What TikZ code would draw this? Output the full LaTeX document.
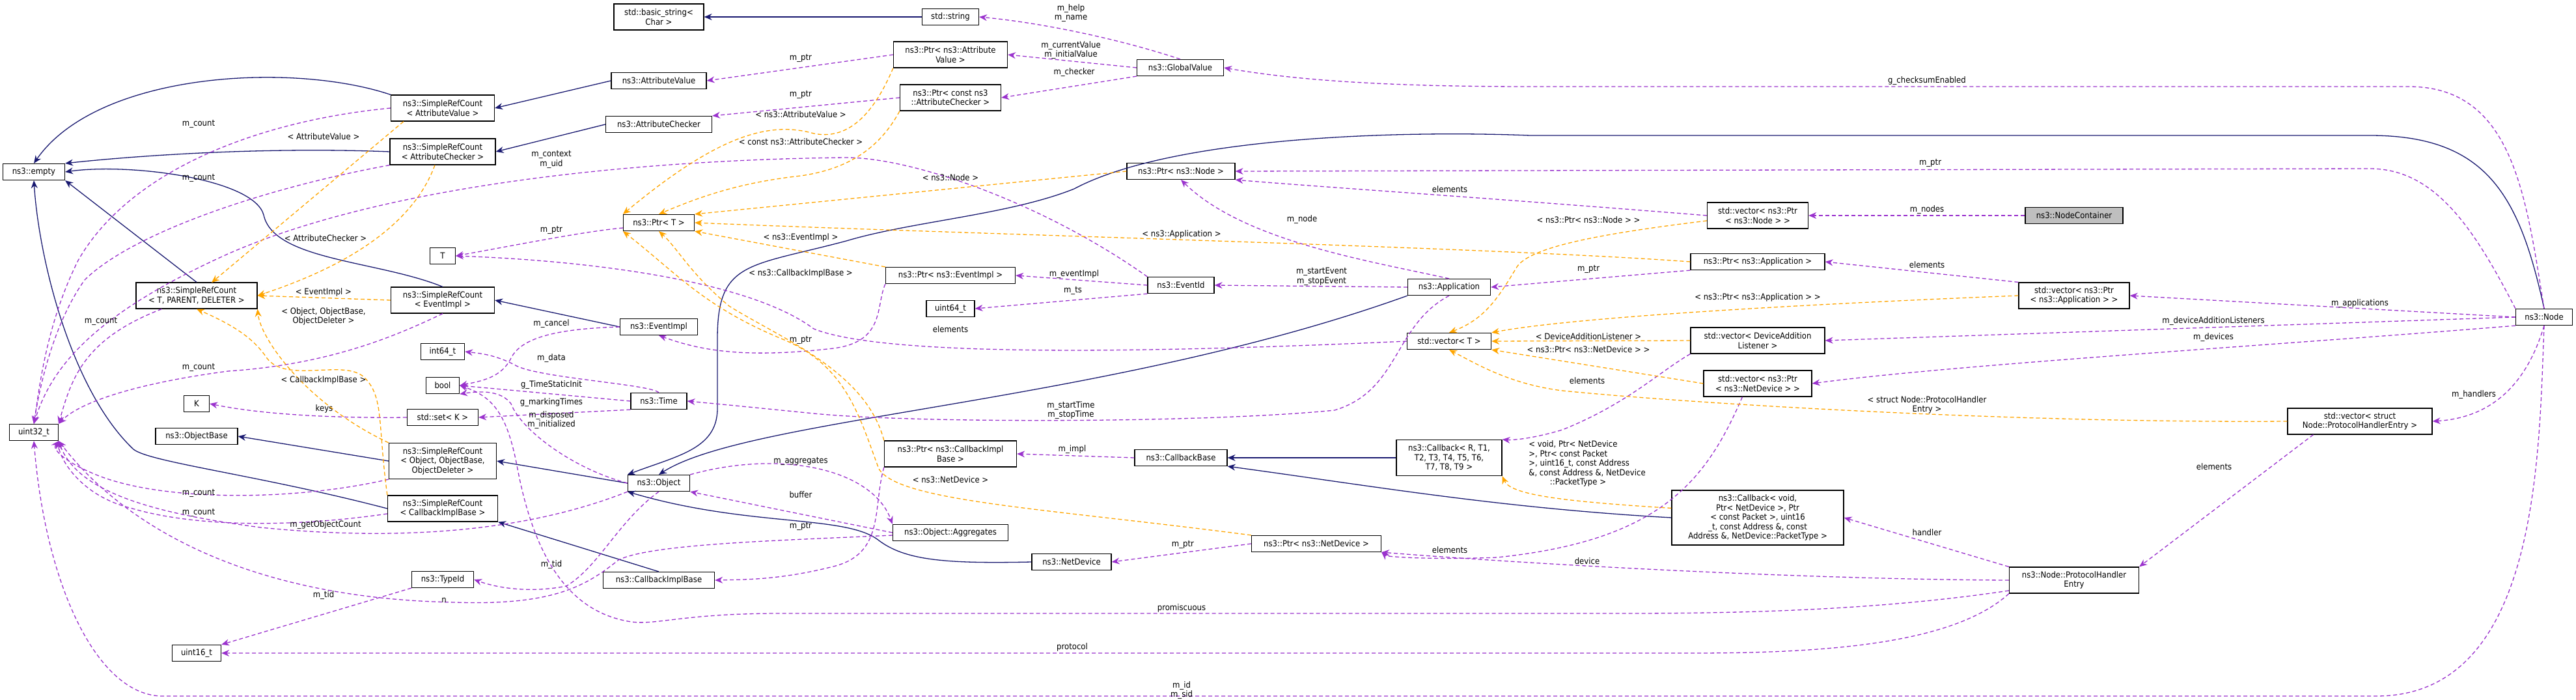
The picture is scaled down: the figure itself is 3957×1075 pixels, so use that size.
\documentclass[tikz,border=0pt]{standalone}
\usepackage{fontspec}
\setmainfont{DejaVu Sans Condensed}
\usetikzlibrary{arrows.meta}
\definecolor{inh}{HTML}{191970}
\definecolor{use}{HTML}{9A32CD}
\definecolor{tpl}{HTML}{FFA500}
\tikzset{
 box/.style={draw=black,line width=1.2pt,fill=white,inner sep=2pt,align=center,font=\fontsize{13}{14.5}\selectfont},
 lb/.style={inner sep=0pt,align=center,font=\fontsize{13}{14.5}\selectfont},
 inher/.style={draw=inh,line width=1.3pt,-{Stealth[length=12pt,width=10pt]}},
 usage/.style={draw=use,line width=1.3pt,dash pattern=on 6pt off 4pt,-{Stealth[length=12pt,width=10pt]}},
 templ/.style={draw=tpl,line width=1.3pt,dash pattern=on 6pt off 4pt,-{Stealth[length=12pt,width=10pt]}},
}
\begin{document}
\begin{tikzpicture}[x=1pt,y=-1pt]
\useasboundingbox (0,0) rectangle (3957,1075);
% nodes
\def\B#1#2#3#4#5{\node[box,minimum width=#4pt,minimum height=#5pt] (#1) at #2 {#3};}
\B{empty}{(52,264)}{ns3::empty}{95}{25}
\B{u32}{(52,664)}{uint32\_t}{75}{25}
\B{K}{(302,620)}{K}{39}{25}
\B{objbase}{(302,670)}{ns3::ObjectBase}{126}{25}
\B{u16}{(302,1003)}{uint16\_t}{75}{25}
\B{srcav}{(680,166)}{ns3::SimpleRefCount\\< AttributeValue >}{159}{40}
\B{srcac}{(680,233)}{ns3::SimpleRefCount\\< AttributeChecker >}{162}{40}
\B{T}{(680,393)}{T}{39}{25}
\B{srctpd}{(302,454)}{ns3::SimpleRefCount\\< T, PARENT, DELETER >}{186}{40}
\B{srcev}{(680,461)}{ns3::SimpleRefCount\\< EventImpl >}{159}{40}
\B{srcobj}{(680,708)}{ns3::SimpleRefCount\\< Object, ObjectBase,\\ObjectDeleter >}{165}{55}
\B{srccb}{(680,781)}{ns3::SimpleRefCount\\< CallbackImplBase >}{169}{40}
\B{i64}{(680,540)}{int64\_t}{67}{25}
\B{bool}{(680,592)}{bool}{51}{25}
\B{setk}{(680,641)}{std::set< K >}{109}{25}
\B{typeid}{(680,890)}{ns3::TypeId}{95}{25}
\B{bstr}{(1012,26)}{std::basic\_string<\\Char >}{138}{40}
\B{av}{(1012,124)}{ns3::AttributeValue}{146}{25}
\B{ac}{(1012,191)}{ns3::AttributeChecker}{163}{25}
\B{ptrt}{(1012,342)}{ns3::Ptr< T >}{109}{25}
\B{evimpl}{(1012,502)}{ns3::EventImpl}{119}{25}
\B{time}{(1012,616)}{ns3::Time}{86}{25}
\B{obj}{(1012,742)}{ns3::Object}{95}{25}
\B{cbib}{(1012,891)}{ns3::CallbackImplBase}{171}{25}
\B{str}{(1460,26)}{std::string}{87}{25}
\B{ptrav}{(1460,84)}{ns3::Ptr< ns3::Attribute\\Value >}{175}{40}
\B{ptrac}{(1460,150)}{ns3::Ptr< const ns3\\::AttributeChecker >}{155}{40}
\B{gv}{(1813,104)}{ns3::GlobalValue}{133}{25}
\B{ptrnode}{(1814,263)}{ns3::Ptr< ns3::Node >}{166}{25}
\B{ptrev}{(1460,423)}{ns3::Ptr< ns3::EventImpl >}{199}{25}
\B{evid}{(1814,438)}{ns3::EventId}{102}{25}
\B{u64}{(1460,474)}{uint64\_t}{74}{25}
\B{ptrcb}{(1460,697)}{ns3::Ptr< ns3::CallbackImpl\\Base >}{203}{40}
\B{cbbase}{(1814,703)}{ns3::CallbackBase}{142}{25}
\B{agg}{(1460,818)}{ns3::Object::Aggregates}{177}{25}
\B{netdev}{(1646,863)}{ns3::NetDevice}{122}{25}
\B{ptrnd}{(2022,835)}{ns3::Ptr< ns3::NetDevice >}{199}{25}
\B{vnode}{(2700,331)}{std::vector< ns3::Ptr\\< ns3::Node > >}{155}{40}
\B{ptrapp}{(2700,402)}{ns3::Ptr< ns3::Application >}{206}{25}
\B{app}{(2226,441)}{ns3::Application}{127}{25}
\B{vt}{(2226,524)}{std::vector< T >}{129}{25}
\B{vdal}{(2700,523)}{std::vector< DeviceAddition\\Listener >}{206}{40}
\B{vnd}{(2700,589)}{std::vector< ns3::Ptr\\< ns3::NetDevice > >}{166}{40}
\B{cbr}{(2226,703)}{ns3::Callback< R, T1,\\T2, T3, T4, T5, T6,\\T7, T8, T9 >}{162}{55}
\B{cbv}{(2700,795)}{ns3::Callback< void,\\Ptr< NetDevice >, Ptr\\< const Packet >, uint16\\\_t, const Address \&, const\\Address \&, NetDevice::PacketType >}{264}{84}
\node[box,fill={rgb,255:red,191;green,191;blue,191},minimum width=150pt,minimum height=25pt] (nc) at (3186,331) {ns3::NodeContainer};
\B{vapp}{(3186,454)}{std::vector< ns3::Ptr\\< ns3::Application > >}{170}{40}
\B{node}{(3908,487)}{ns3::Node}{87}{25}
\B{vphe}{(3625,647)}{std::vector< struct\\Node::ProtocolHandlerEntry >}{222}{40}
\B{phe}{(3186,891)}{ns3::Node::ProtocolHandler\\Entry}{199}{40}
\coordinate (tpdtop) at (325,434);
\coordinate (ptrtl) at (957,350);

% inheritance
\draw[inher] (srcav.north west) .. controls (450,95) and (150,110) .. (empty.north);
\draw[inher] (srcac.west) .. controls (400,225) and (200,240) .. (empty.north east);
\draw[inher] (srcev.north) .. controls (580,400) and (420,400) .. (405,330) .. controls (390,275) and (200,250) .. (empty.east);
\draw[inher] (srctpd.north) -- (empty.south east);
\draw[inher] (srccb.west) .. controls (400,730) and (230,710) .. (205,690) .. controls (110,600) and (60,400) .. (empty.south);
\draw[inher] (av.west) -- (srcav.east);
\draw[inher] (ac.west) -- (srcac.east);
\draw[inher] (evimpl.west) -- (srcev.east);
\draw[inher] (srcobj.west) -- (objbase.east);
\draw[inher] (obj.west) -- (srcobj.east);
\draw[inher] (cbib.north) -- (srccb.south east);
\draw[inher] (str.west) -- (bstr.east);
\draw[inher] (app.south west) .. controls (1700,620) and (1150,640) .. (obj.north);
\draw[inher] (node.north) .. controls (3870,300) and (3820,208) .. (3640,208) -- (2350,208) .. controls (2150,200) and (1800,210) .. (1650,290) .. controls (1550,330) and (1400,340) .. (1300,370) .. controls (1150,410) and (1102,400) .. (1102,520) -- (1102,630) .. controls (1100,690) and (1040,700) .. (obj.north west);
\draw[inher] (netdev.west) .. controls (1450,866) and (1390,860) .. (1350,830) .. controls (1300,790) and (1150,810) .. (obj.south west);
\draw[inher] (cbv.west) .. controls (2300,780) and (2100,745) .. (cbbase.south east);
\draw[inher] (cbr.west) -- (cbbase.east);

% usage
\draw[usage] (gv.north) .. controls (1720,60) and (1600,35) .. (str.east);
\node[lb] (l1) at (1645,20) {m\_help\\m\_name};
\draw[usage] (gv.west) -- (ptrav.east);
\node[lb] (l2) at (1645,77) {m\_currentValue\\m\_initialValue};
\draw[usage] (gv.south west) -- (ptrac.east);
\node[lb] (l3) at (1650,111) {m\_checker};
\draw[usage] (ptrav.west) -- (av.east);
\node[lb] (l4) at (1230,89) {m\_ptr};
\draw[usage] (ptrac.west) -- (ac.north east);
\node[lb] (l5) at (1230,145) {m\_ptr};
\draw[usage] (node.north) .. controls (3880,300) and (3860,133) .. (3700,133) -- (2350,133) .. controls (2150,133) and (2000,125) .. (gv.east);
\node[lb] (l6) at (2960,124) {g\_checksumEnabled};
\draw[usage] (node.north west) .. controls (3800,350) and (3740,259) .. (3640,259) -- (ptrnode.east);
\node[lb] (l7) at (2965,250) {m\_ptr};
\draw[usage] (vnode.west) .. controls (2300,305) and (2000,285) .. (ptrnode.south east);
\node[lb] (l8) at (2227,291) {elements};
\draw[usage] (nc.west) -- (vnode.east);
\node[lb] (l9) at (2960,322) {m\_nodes};
\draw[usage] (app.north) .. controls (2100,400) and (1910,370) .. (ptrnode.south);
\node[lb] (l10) at (2000,337) {m\_node};
\draw[usage] (app.west) -- (evid.east);
\node[lb] (l11) at (2030,425) {m\_startEvent\\m\_stopEvent};
\draw[usage] (evid.west) -- (ptrev.east);
\node[lb] (l12) at (1650,421) {m\_eventImpl};
\draw[usage] (evid.south west) -- (u64.east);
\node[lb] (l13) at (1648,446) {m\_ts};
\draw[usage] (evid.north west) .. controls (1600,310) and (1400,242) .. (1300,242) .. controls (1000,245) and (600,280) .. (350,390) .. controls (150,480) and (80,560) .. (u32.north);
\node[lb] (l14) at (847,245) {m\_context\\m\_uid};
\draw[usage] (ptrtl) .. controls (900,355) and (800,375) .. (T.east);
\node[lb] (l15) at (847,353) {m\_ptr};
\draw[usage] (vt.west) .. controls (1700,545) and (1350,545) .. (1250,505) .. controls (1150,430) and (900,400) .. (T.east);
\node[lb] (l16) at (1460,506) {elements};
\draw[usage] (obj.north east) .. controls (1200,690) and (1340,720) .. (agg.north west);
\node[lb] (l17) at (1230,708) {m\_aggregates};
\draw[usage] (agg.west) -- (obj.south east);
\node[lb] (l18) at (1230,760) {buffer};
\draw[usage] (ptrcb.south west) .. controls (1340,780) and (1360,850) .. (1280,870) .. controls (1200,890) and (1150,890) .. (cbib.east);
\node[lb] (l19) at (1230,808) {m\_ptr};
\draw[usage] (ptrev.south west) .. controls (1345,470) and (1360,525) .. (1280,535) .. controls (1150,550) and (1080,540) .. (evimpl.south);
\node[lb] (l20) at (1230,522) {m\_ptr};
\draw[usage] (time.north) .. controls (1000,590) and (820,580) .. (790,560) .. controls (760,545) and (740,543) .. (i64.east);
\node[lb] (l21) at (847,550) {m\_data};
\draw[usage] (time.west) -- (bool.east);
\node[lb] (l22) at (847,591) {g\_TimeStaticInit};
\draw[usage] (time.south west) -- (setk.east);
\node[lb] (l23) at (847,618) {g\_markingTimes};
\draw[usage] (setk.west) .. controls (550,642) and (420,640) .. (K.east);
\node[lb] (l24) at (498,628) {keys};
\draw[usage] (obj.west) .. controls (880,720) and (800,660) .. (785,620) .. controls (770,600) and (740,600) .. (bool.south east);
\node[lb] (l25) at (847,645) {m\_disposed\\m\_initialized};
\draw[usage] (evimpl.west) .. controls (850,505) and (800,520) .. (785,550) .. controls (770,580) and (740,585) .. (bool.east);
\node[lb] (l26) at (847,497) {m\_cancel};
\draw[usage] (obj.south) .. controls (950,800) and (920,870) .. (870,900) .. controls (820,910) and (770,905) .. (typeid.east);
\node[lb] (l27) at (847,867) {m\_tid};
\draw[usage] (typeid.south west) -- (u16.north east);
\node[lb] (l28) at (497,914) {m\_tid};
\draw[usage] (phe.south west) .. controls (3000,990) and (2800,1003) .. (2600,1003) -- (u16.east);
\node[lb] (l29) at (1647,994) {protocol};
\draw[usage] (phe.west) ++(0,16) .. controls (2900,935) and (2700,942) .. (2500,942) -- (1200,942) .. controls (1050,942) and (1010,960) .. (970,955) .. controls (870,940) and (820,850) .. (795,720) .. controls (780,640) and (760,610) .. (bool.east);
\node[lb] (l30) at (1815,934) {promiscuous};
\draw[usage] (phe.west) .. controls (2800,890) and (2400,870) .. (ptrnd.south east) ;
\node[lb] (l31) at (2438,862) {device};
\draw[usage] (phe.north west) -- (cbv.east);
\node[lb] (l32) at (2960,818) {handler};
\draw[usage] (vphe.south west) ++(40,0) -- (phe.north east);
\node[lb] (l33) at (3401,717) {elements};
\draw[usage] (node.south) .. controls (3890,560) and (3850,640) .. (vphe.east);
\node[lb] (l34) at (3800,606) {m\_handlers};
\draw[usage] (node.west) -- (vapp.east);
\node[lb] (l35) at (3625,466) {m\_applications};
\draw[usage] (node.west) -- (vdal.east);
\node[lb] (l36) at (3400,493) {m\_deviceAdditionListeners};
\draw[usage] (node.south west) .. controls (3500,530) and (3000,560) .. (vnd.east);
\node[lb] (l37) at (3400,518) {m\_devices};
\draw[usage] (node.south) .. controls (3900,700) and (3900,1069) .. (3650,1069) -- (250,1069) .. controls (150,1069) and (70,900) .. (u32.south);
\node[lb] (l38) at (1815,1060) {m\_id\\m\_sid};
\draw[usage] (vapp.north west) -- (ptrapp.east);
\node[lb] (l39) at (2960,407) {elements};
\draw[usage] (ptrapp.south west) -- (app.east);
\node[lb] (l40) at (2440,413) {m\_ptr};
\draw[usage] (vdal.south west) .. controls (2550,570) and (2500,620) .. (2400,660) .. controls (2350,675) and (2320,676) .. (cbr.north east);
\node[lb] (l41) at (2438,585) {elements};
\draw[usage] (vnd.south west) ++(60,0) .. controls (2620,740) and (2550,830) .. (2300,856) .. controls (2200,860) and (2130,855) .. (ptrnd.south east);
\node[lb] (l42) at (2227,845) {elements};
\draw[usage] (ptrnd.west) -- (netdev.east);
\node[lb] (l43) at (1817,836) {m\_ptr};
\draw[usage] (cbbase.west) -- (ptrcb.east);
\node[lb] (l44) at (1647,690) {m\_impl};
\draw[usage] (app.south) .. controls (2140,500) and (2150,600) .. (2050,630) .. controls (1850,650) and (1400,650) .. (1250,635) .. controls (1150,625) and (1100,620) .. (time.east);
\node[lb] (l45) at (1645,630) {m\_startTime\\m\_stopTime};
\draw[usage] (agg.west) ++(0,4) .. controls (1200,830) and (1000,835) .. (950,860) .. controls (900,900) and (850,930) .. (700,925) .. controls (400,920) and (200,820) .. (u32.south east);
\node[lb] (l46) at (682,922) {n};
% m_count
\draw[usage] (srcav.west) .. controls (400,185) and (200,260) .. (120,400) .. controls (70,500) and (60,600) .. (u32.north);
\node[lb] (l47) at (305,190) {m\_count};
\draw[usage] (srcac.south west) .. controls (400,290) and (200,360) .. (130,430) .. controls (80,500) and (60,600) .. (u32.north);
\node[lb] (l48) at (305,273) {m\_count};
\draw[usage] (srctpd.south west) ++(40,0) .. controls (130,520) and (110,580) .. (u32.north east);
\node[lb] (l49) at (155,493) {m\_count};
\draw[usage] (srcev.south) .. controls (600,520) and (500,560) .. (350,570) .. controls (200,590) and (120,620) .. (u32.north east);
\node[lb] (l50) at (305,564) {m\_count};
\draw[usage] (srcobj.south west) .. controls (450,770) and (250,770) .. (150,730) .. controls (100,710) and (80,690) .. (u32.south east);
\node[lb] (l51) at (305,757) {m\_count};
\draw[usage] (srccb.west) ++(0,8) .. controls (450,810) and (300,810) .. (200,780) .. controls (120,760) and (90,700) .. (u32.south east);
\node[lb] (l52) at (305,787) {m\_count};
\draw[usage] (obj.south west) .. controls (800,820) and (600,830) .. (400,810) .. controls (250,790) and (120,760) .. (u32.south east);
\node[lb] (l53) at (500,806) {m\_getObjectCount};

% templates
\draw[templ] (srcav.south west) ++(20,0) -- (tpdtop);
\node[lb] (t1) at (497,210) {< AttributeValue >};
\draw[templ] (srcac.south) ++(-12,0) .. controls (640,330) and (560,400) .. (srctpd.east) ;
\node[lb] (t2) at (500,366) {< AttributeChecker >};
\draw[templ] (srcev.west) -- (srctpd.east);
\node[lb] (t3) at (497,449) {< EventImpl >};
\draw[templ] (srcobj.north west) .. controls (470,620) and (400,520) .. (srctpd.south east);
\node[lb] (t4) at (497,486) {< Object, ObjectBase,\\ObjectDeleter >};
\draw[templ] (srccb.north west) .. controls (580,650) and (590,610) .. (560,580) .. controls (530,550) and (440,590) .. (410,550) .. controls (390,520) and (360,500) .. (srctpd.south);
\node[lb] (t5) at (497,584) {< CallbackImplBase >};
\draw[templ] (ptrav.south west) .. controls (1340,180) and (1300,215) .. (1250,205) .. controls (1180,185) and (1100,210) .. (ptrt.north west);
\node[lb] (t6) at (1230,176) {< ns3::AttributeValue >};
\draw[templ] (ptrac.south west) .. controls (1350,230) and (1300,260) .. (1230,270) .. controls (1140,280) and (1080,300) .. (ptrt.north);
\node[lb] (t7) at (1230,218) {< const ns3::AttributeChecker >};
\draw[templ] (ptrnode.west) -- (ptrt.north east);
\node[lb] (t8) at (1460,273) {< ns3::Node >};
\draw[templ] (ptrapp.west) .. controls (2300,380) and (1500,360) .. (ptrt.east);
\node[lb] (t9) at (1815,360) {< ns3::Application >};
\draw[templ] (ptrev.north west) -- (ptrt.south east);
\node[lb] (t10) at (1230,365) {< ns3::EventImpl >};
\draw[templ] (ptrcb.north west) .. controls (1330,570) and (1200,520) .. (1120,470) .. controls (1060,420) and (1040,380) .. (ptrt.south);
\node[lb] (t11) at (1230,420) {< ns3::CallbackImplBase >};
\draw[templ] (ptrnd.north west) .. controls (1600,780) and (1380,770) .. (1350,720) .. controls (1320,640) and (1300,560) .. (1200,520) .. controls (1080,470) and (1040,420) .. (ptrt.south west);
\node[lb] (t12) at (1460,737) {< ns3::NetDevice >};
\draw[templ] (vnode.west) ++(0,8) .. controls (2450,360) and (2350,380) .. (2330,410) .. controls (2300,460) and (2280,490) .. (vt.north);
\node[lb] (t13) at (2440,338) {< ns3::Ptr< ns3::Node > >};
\draw[templ] (vapp.west) .. controls (2700,470) and (2400,490) .. (vt.north east);
\node[lb] (t14) at (2700,457) {< ns3::Ptr< ns3::Application > >};
\draw[templ] (vdal.west) -- (vt.east);
\node[lb] (t15) at (2440,517) {< DeviceAdditionListener >};
\draw[templ] (vnd.west) -- (vt.south east);
\node[lb] (t16) at (2440,537) {< ns3::Ptr< ns3::NetDevice > >};
\draw[templ] (vphe.west) .. controls (3100,650) and (2600,620) .. (2400,600) .. controls (2320,590) and (2270,560) .. (vt.south);
\node[lb] (t17) at (2960,622) {< struct Node::ProtocolHandler\\Entry >};
\draw[templ] (cbv.north west) ++(0,28) .. controls (2400,770) and (2320,760) .. (cbr.south east);
\node[lb,align=left] (t18) at (2438,712) {< void, Ptr< NetDevice\\>, Ptr< const Packet\\>, uint16\_t, const Address\\\&, const Address \&, NetDevice\\\hspace*{2.5em}::PacketType >};
\end{tikzpicture}
\end{document}
